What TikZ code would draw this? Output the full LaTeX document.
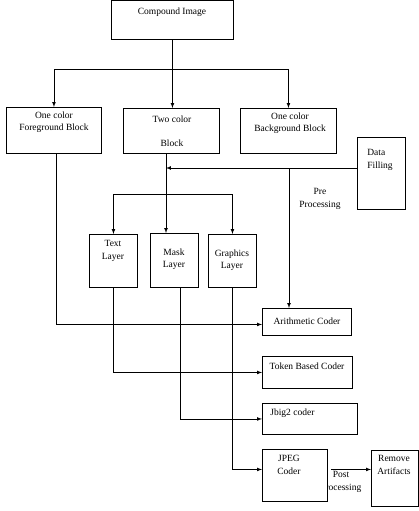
\documentclass[tikz,border=0pt]{standalone}
\usepackage{fontspec}
\setmainfont{Liberation Serif}
\usepackage{tikz}
\usetikzlibrary{arrows,calc,positioning}
\tikzset{
    chart/.style={>=latex, line width=0.7pt, x=1pt, y=-1pt},
    block/.style={rectangle, draw, fill=white, line width=0.9pt, anchor=north west, inner sep=0pt},
    lbl/.style={font=\fontsize{9.5}{12.5}\selectfont, align=center, inner sep=0pt},
    }

\begin{document}
\begin{tikzpicture}[chart]
            \useasboundingbox (0,0) rectangle (419,511);

            % boxes
            \node[block, minimum width=122pt, minimum height=39pt] (img) at (111,0) {};
            \node[block, minimum width=95pt, minimum height=46pt] (fg) at (6,107) {};
            \node[block, minimum width=96pt, minimum height=45pt] (two) at (123,108) {};
            \node[block, minimum width=96pt, minimum height=45pt] (bg) at (240,108) {};
            \node[block, minimum width=48pt, minimum height=72pt] (fill) at (357,137) {};

            \node[block, minimum width=48pt, minimum height=53pt] (text) at (89,234) {};
            \node[block, minimum width=48pt, minimum height=54pt] (mask) at (150,233) {};
            \node[block, minimum width=48pt, minimum height=53pt] (gfx) at (208,234) {};

            \node[block, minimum width=89pt, minimum height=27pt] (arith) at (262,308) {};
            \node[block, minimum width=90pt, minimum height=32pt] (token) at (262,356) {};
            \node[block, minimum width=95pt, minimum height=31pt] (jbig) at (262,403) {};
            \node[lbl] (post) at (341,482) {Post\\processing};
            \node[block, minimum width=65pt, minimum height=52pt] (jpeg) at (262,449) {};
            \node[block, minimum width=47pt, minimum height=56pt] (rem) at (371,450) {};

            % texts
            \node[lbl] (imgtxt) at (172,12) {Compound Image};
            \node[lbl] (fgtxt) at (54,122) {One color\\Foreground Block};
            \node[lbl] (twotxt) at (172,131) {Two color\\[11pt]Block};
            \node[lbl] (bgtxt) at (290,123) {One color\\Background Block};
            \node[lbl, align=left, anchor=west] (filltxt) at (367,160) {Data\\Filling};
            \node[lbl] (pretxt) at (320,199) {Pre\\Processing};
            \node[lbl] (texttxt) at (113,251) {Text\\[1pt]Layer};
            \node[lbl] (masktxt) at (174,259) {Mask\\Layer};
            \node[lbl] (gfxtxt) at (232,260) {Graphics\\Layer};
            \node[lbl] (arithtxt) at (307,321) {Arithmetic Coder};
            \node[lbl] (tokentxt) at (307,366) {Token Based Coder};
            \node[lbl, anchor=west] (jbigtxt) at (270,413) {Jbig2 coder};
            \node[lbl] (jpegtxt) at (289,465) {JPEG\\Coder};
            \node[lbl] (remtxt) at (394,465) {Remove\\Artifacts};

            % split points
            \coordinate (split) at (img.south |- 0,69);
            \coordinate (mid) at (166,168);
            \coordinate (fork) at (166,194);
            \coordinate (pp) at (289,168);

            \draw (img.south) -- (split);
            \draw[->] (split) -| (fg.north);
            \draw[->] (split) -- (split |- two.north);
            \draw[->] (split) -| (bg.north);

            \draw[->] (fill.west |- mid) -- (mid);
            \draw (two.south -| mid) -- (mid);
            \draw[->] (mid) -- (mask.north -| mid);
            \draw[->] (fork) -| (text.north);
            \draw[->] (fork) -| (gfx.north);
            \draw[->] (pp) -- (arith.north -| pp);

            \draw[->] ([xshift=2pt]fg.south) |- ([yshift=-2.5pt]arith.west);
            \draw[->] (text.south) |- (token.west);
            \draw[->] ([xshift=6pt]mask.south) |- (jbig.west);
            \draw[->] (gfx.south) |- ([yshift=6pt]jpeg.west);
            \draw[->] ([xshift=3pt,yshift=6pt]jpeg.east) -- ([yshift=6pt]jpeg.east -| rem.west);
        \end{tikzpicture}
\end{document}
